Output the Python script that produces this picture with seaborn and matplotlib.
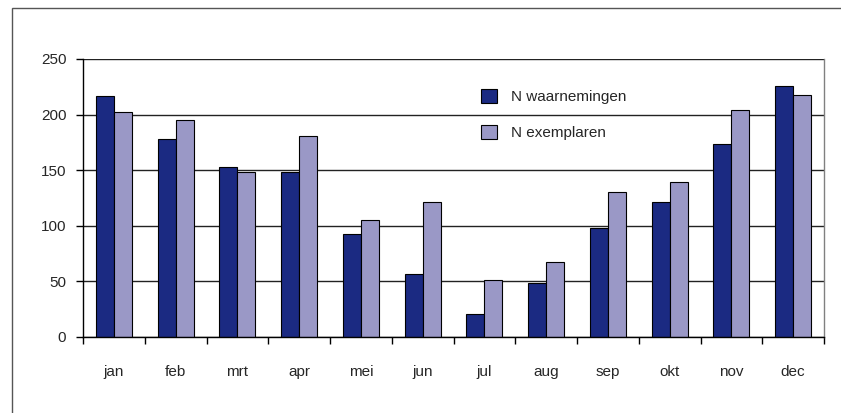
import pandas as pd
import numpy as np
import seaborn as sns
import matplotlib.pyplot as plt
from matplotlib.patches import Rectangle

months = ['jan', 'feb', 'mrt', 'apr', 'mei', 'jun', 'jul', 'aug', 'sep', 'okt', 'nov', 'dec']
waarnemingen = [217, 178, 153, 148, 93, 57, 21, 49, 98, 121, 174, 226]
exemplaren = [202, 195, 148, 181, 105, 121, 51, 67, 130, 139, 204, 218]
series = ['N waarnemingen', 'N exemplaren']
colors = ['#1b2a82', '#9a98c6']

df = pd.DataFrame({'maand': months * 2,
                   'aantal': waarnemingen + exemplaren,
                   'reeks': [series[0]] * 12 + [series[1]] * 12})

sns.set_style('white')
plt.rcParams['font.family'] = ['Liberation Sans', 'DejaVu Sans']

fig = plt.figure(figsize=(8.41, 4.13), dpi=100)
ax = fig.add_axes([83 / 841, 76 / 413, 741 / 841, 278 / 413])

sns.barplot(data=df, x='maand', y='aantal', hue='reeks', palette=colors, saturation=1,
            width=0.58, gap=0, edgecolor='black', linewidth=0.8, ax=ax)

ax.set_ylim(0, 250)
ax.set_xlim(-0.5, 11.5)
ax.set_yticks(range(0, 251, 50))
ax.yaxis.grid(True, color='#222222', lw=1)
ax.set_axisbelow(True)
ax.set_xlabel('')
ax.set_ylabel('')

# tick marks between the categories
ax.set_xticks(np.arange(-0.5, 12, 1), minor=True)
ax.tick_params(axis='x', which='major', length=0, labelsize=11, pad=20)
ax.tick_params(axis='x', which='minor', length=5, width=1, color='black', direction='out')
ax.tick_params(axis='y', length=5, width=1, color='black', direction='out', labelsize=11, pad=7)
ax.xaxis.set_ticks_position('bottom')
ax.yaxis.set_ticks_position('left')

ax.spines['top'].set_visible(False)
ax.spines['right'].set_color('#808080')
ax.spines['left'].set_color('black')
ax.spines['bottom'].set_color('black')
for s in ['left', 'bottom', 'right']:
    ax.spines[s].set_linewidth(1)

ax.legend_.remove()
handles = [plt.Rectangle((0, 0), 1, 1, facecolor=c, edgecolor='black', lw=0.8) for c in colors]
fig.legend(handles, series, loc='center left', bbox_to_anchor=(481 / 841, 1 - 114.5 / 413),
           frameon=False, fontsize=11, handlelength=1.05, handleheight=1.05,
           handletextpad=0.9, labelspacing=1.4, borderpad=0, borderaxespad=0)

# outer chart border
fig.patches.append(Rectangle((11.5 / 841, -0.1), 1.2, 1.1 - 7.5 / 413, transform=fig.transFigure,
                             fill=False, edgecolor='#555555', lw=1))

fig.savefig('out.png', dpi=100)
